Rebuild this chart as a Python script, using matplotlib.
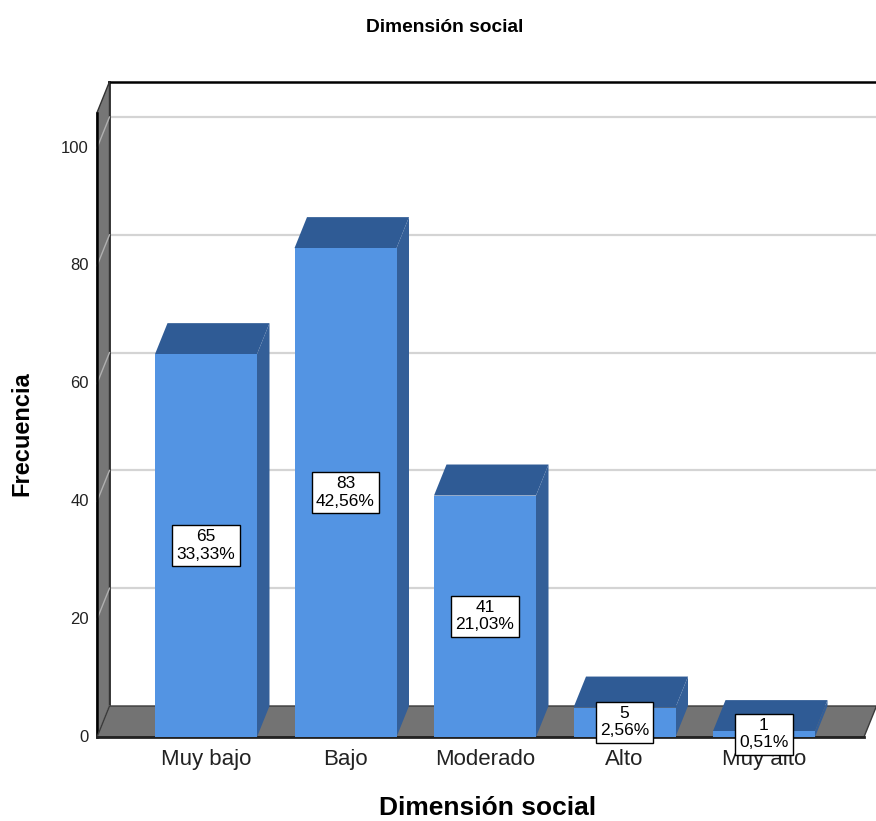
import matplotlib
matplotlib.use('Agg')
import matplotlib.pyplot as plt
from matplotlib.patches import Polygon

plt.rcParams['font.family'] = ['Liberation Sans', 'DejaVu Sans']

categories = ['Muy bajo', 'Bajo', 'Moderado', 'Alto', 'Muy alto']
counts = [65, 83, 41, 5, 1]
yticks = [0, 20, 40, 60, 80, 100]
title = 'Dimensión social'
xlabel = 'Dimensión social'
ylabel = 'Frecuencia'

total = sum(counts)
pct_labels = [f'{c / total * 100:.2f}%'.replace('.', ',') for c in counts]

# colours
front_col = '#5394e3'
top_col = '#2f5b95'
side_col = '#345f98'
wall_col = '#767676'
grid_col = '#d4d4d4'

# layout: one axes over the whole figure, front plane in data units
W, H = 876, 821
x0_px, x_step = 206, 139.5     # pixel of category 0 and category spacing
y0_px, y_unit = 737, 5.89      # pixel of value 0 and pixels per unit
dx = 12.5 / x_step             # depth offset
dy = 31 / y_unit
bw = 102 / x_step              # bar width
xw = (97 - x0_px) / x_step     # left wall
xr = (864 - x0_px) / x_step    # floor right end
xedge = (W + 20 - x0_px) / x_step
ymax = 106

fig = plt.figure(figsize=(W / 100, H / 100), dpi=100)
ax = fig.add_axes([0, 0, 1, 1])
ax.set_xlim(-x0_px / x_step, (W - x0_px) / x_step)
ax.set_ylim((y0_px - H) / y_unit, y0_px / y_unit)
ax.axis('off')

# back wall
ax.add_patch(Polygon([(xw + dx, dy), (xedge, dy), (xedge, ymax + dy), (xw + dx, ymax + dy)],
                     closed=True, facecolor='white', edgecolor='none', zorder=1))
for g in yticks[1:]:
    ax.plot([xw + dx, xedge], [g + dy, g + dy], color=grid_col, lw=1.6, zorder=2)
ax.plot([xw + dx, xedge], [ymax + dy, ymax + dy], color='black', lw=1.8, zorder=3)
ax.plot([xw + dx, xw + dx], [dy, ymax + dy], color='black', lw=1.8, zorder=3)

# left wall
ax.add_patch(Polygon([(xw, 0), (xw + dx, dy), (xw + dx, ymax + dy), (xw, ymax)],
                     closed=True, facecolor=wall_col, edgecolor='#333333', lw=1.0, zorder=3))
for g in yticks:
    ax.plot([xw, xw + dx], [g, g + dy], color='#b0b0b0', lw=1.0, zorder=4)
ax.plot([xw, xw], [0, ymax], color='black', lw=1.8, zorder=4)

# floor
ax.add_patch(Polygon([(xw, 0), (xr, 0), (xr + dx, dy), (xw + dx, dy)],
                     closed=True, facecolor='#737373', edgecolor='#3a3a3a', lw=1.0, zorder=4))
ax.plot([xw, xr], [0, 0], color='#222222', lw=2.0, zorder=5)

# bars
for i, v in enumerate(counts):
    l, r = i - bw / 2, i + bw / 2
    ax.add_patch(Polygon([(r, 0), (r + dx, dy), (r + dx, v + dy), (r, v)],
                         closed=True, facecolor=side_col, edgecolor='none', zorder=6))
    ax.add_patch(Polygon([(l, v), (r, v), (r + dx, v + dy), (l + dx, v + dy)],
                         closed=True, facecolor=top_col, edgecolor='none', zorder=6))
    ax.add_patch(Polygon([(l, 0), (r, 0), (r, v), (l, v)],
                         closed=True, facecolor=front_col, edgecolor='none', zorder=7))

# data labels
for i, v in enumerate(counts):
    ax.text(i, v / 2, f'{v}\n{pct_labels[i]}', ha='center', va='center', fontsize=12.5,
            linespacing=1.2, zorder=9,
            bbox=dict(boxstyle='square,pad=0.25', facecolor='white', edgecolor='black', lw=1.0))

# tick labels
for t in yticks:
    ax.text((89 - x0_px) / x_step, t, str(t), ha='right', va='center', fontsize=12, color='#222222')
for i, c in enumerate(categories):
    ax.text(i, (y0_px - 759) / y_unit, c, ha='center', va='center', fontsize=16, color='#222222', zorder=8)

fig.text(488 / W, 1 - 808 / H, xlabel, ha='center', va='center', fontsize=19, fontweight='bold')
fig.text(22 / W, 1 - 434 / H, ylabel, ha='center', va='center', fontsize=17,
         fontweight='bold', rotation=90)
fig.text(445 / W, 1 - 27 / H, title, ha='center', va='center', fontsize=13.8, fontweight='bold')

fig.savefig('out.png', dpi=100)
